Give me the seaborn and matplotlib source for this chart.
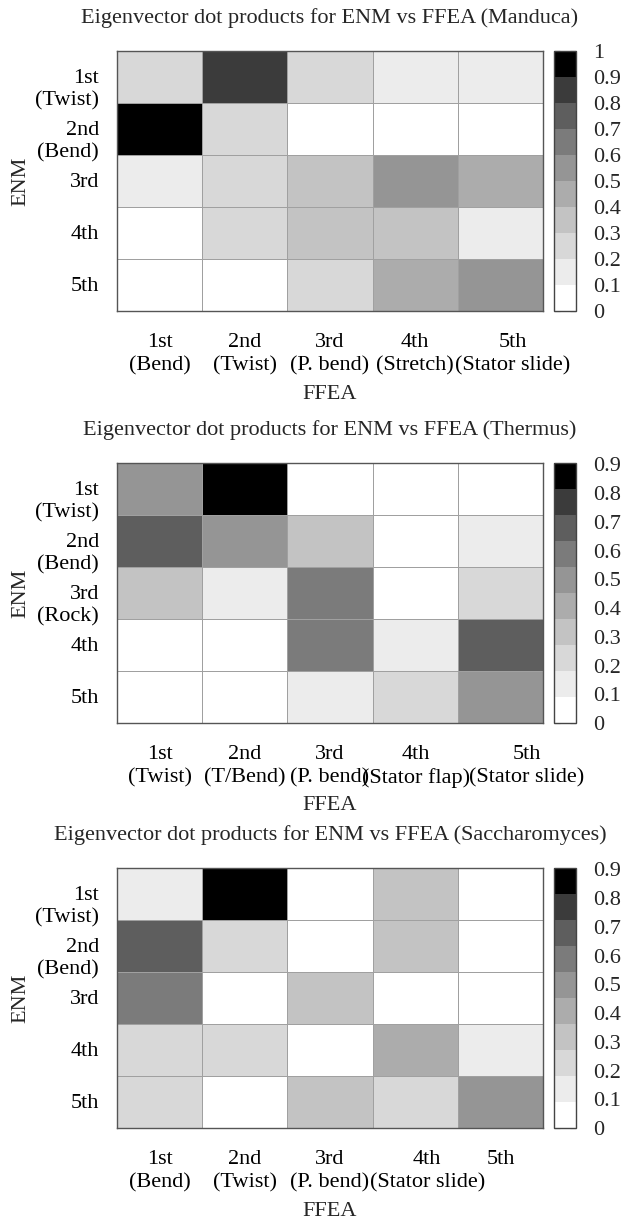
import numpy as np
import pandas as pd
import matplotlib
matplotlib.use("Agg")
import matplotlib.pyplot as plt
import seaborn as sns
from matplotlib.colors import ListedColormap
from matplotlib.transforms import ScaledTranslation

# ---------------- data ----------------
titles = [
    "Eigenvector dot products for ENM vs FFEA (Manduca)",
    "Eigenvector dot products for ENM vs FFEA (Thermus)",
    "Eigenvector dot products for ENM vs FFEA (Saccharomyces)",
]

enm_manduca = ["1st\n(Twist)", "2nd\n(Bend)", "3rd", "4th", "5th"]
ffea_manduca = ["1st\n(Bend)", "2nd\n(Twist)", "3rd\n(P. bend)", "4th\n(Stretch)", "5th\n(Stator slide)"]
manduca = [
    [0.25, 0.85, 0.25, 0.15, 0.15],
    [0.97, 0.25, 0.05, 0.03, 0.02],
    [0.15, 0.25, 0.35, 0.55, 0.45],
    [0.05, 0.25, 0.35, 0.35, 0.15],
    [0.05, 0.05, 0.25, 0.45, 0.55],
]
cbmax_manduca = 1.0

enm_thermus = ["1st\n(Twist)", "2nd\n(Bend)", "3rd\n(Rock)", "4th", "5th"]
ffea_thermus = ["1st\n(Twist)", "2nd\n(T/Bend)", "3rd\n(P. bend)", "4th\n(Stator flap)", "5th\n(Stator slide)"]
thermus = [
    [0.50, 0.905, 0.04, 0.03, 0.04],
    [0.68, 0.50, 0.32, 0.03, 0.13],
    [0.32, 0.13, 0.60, 0.02, 0.23],
    [0.03, 0.04, 0.60, 0.13, 0.68],
    [0.02, 0.03, 0.13, 0.23, 0.50],
]
cbmax_thermus = 0.905

enm_sacch = ["1st\n(Twist)", "2nd\n(Bend)", "3rd", "4th", "5th"]
ffea_sacch = ["1st\n(Bend)", "2nd\n(Twist)", "3rd\n(P. bend)", "4th\n(Stator slide)", "5th"]
sacch = [
    [0.13, 0.905, 0.03, 0.32, 0.02],
    [0.68, 0.23, 0.02, 0.32, 0.03],
    [0.60, 0.03, 0.32, 0.04, 0.02],
    [0.23, 0.23, 0.03, 0.42, 0.13],
    [0.23, 0.04, 0.32, 0.23, 0.50],
]
cbmax_sacch = 0.905

cb_ticks_manduca = [0, 0.1, 0.2, 0.3, 0.4, 0.5, 0.6, 0.7, 0.8, 0.9, 1.0]
cb_ticks_other = [0, 0.1, 0.2, 0.3, 0.4, 0.5, 0.6, 0.7, 0.8, 0.9]

panels = [
    (titles[0], manduca, enm_manduca, ffea_manduca, cbmax_manduca, cb_ticks_manduca),
    (titles[1], thermus, enm_thermus, ffea_thermus, cbmax_thermus, cb_ticks_other),
    (titles[2], sacch, enm_sacch, ffea_sacch, cbmax_sacch, cb_ticks_other),
]

# ---------------- style ----------------
sns.set_theme(style="white")
plt.rcParams["font.family"] = ["Liberation Serif", "DejaVu Serif"]
FS = 16

# gnuplot-like negative gray palette, 10 discrete colours (gamma 1.5)
levels = [(1 - i / 9) ** (2 / 3) for i in range(10)]
cmap = ListedColormap([(g, g, g) for g in levels])

W, H = 621, 1221
fig = plt.figure(figsize=(W / 100, H / 100), dpi=100)

ax_left, ax_right = 117, 543
cb_left, cb_right = 554, 576
layout = [  # (title_y, top, bottom, xlabel_y)
    (18, 51, 311, 395),
    (430, 463, 723, 805),
    (835, 868, 1128, 1212),
]
# horizontal nudges (px) of x tick labels, mimicking the reference's placement
xshift = [
    [0, 0, 0, 0, 12],
    [0, 0, 0, 1, 26],
    [0, 0, 0, 12, 0],
]

for k, ((title, data, rows, cols, cbmax, cbt), (ty, top, bot, xly)) in enumerate(zip(panels, layout)):
    ax = fig.add_axes([ax_left / W, 1 - bot / H, (ax_right - ax_left) / W, (bot - top) / H])
    cax = fig.add_axes([cb_left / W, 1 - bot / H, (cb_right - cb_left) / W, (bot - top) / H])
    df = pd.DataFrame(data, index=rows, columns=cols)
    sns.heatmap(df, ax=ax, cbar_ax=cax, cmap=cmap, vmin=0, vmax=cbmax,
                linewidths=0.7, linecolor="#a0a0a0",
                cbar_kws={"ticks": cbt})
    for s in ax.spines.values():
        s.set_visible(True)
        s.set_color("#555555")
        s.set_linewidth(1.0)
    ax.tick_params(axis="both", which="both", direction="in", length=6, width=0.8,
                   color="#333333", top=True, right=True, bottom=True, left=True,
                   labelsize=FS, labelcolor="black")
    ax.tick_params(axis="x", pad=16)
    ax.tick_params(axis="y", pad=13)
    ax.set_xticklabels(cols, rotation=0, ha="center", fontsize=FS, linespacing=1.25)
    ax.set_yticklabels(rows, rotation=0, ha="right", va="top", fontsize=FS, linespacing=1.25)
    for lbl in ax.get_yticklabels():
        lbl.set_transform(lbl.get_transform() + ScaledTranslation(0, 8 / 100, fig.dpi_scale_trans))
    for lbl, dx in zip(ax.get_xticklabels(), xshift[k]):
        lbl.set_transform(lbl.get_transform() + ScaledTranslation(dx / 100, 0, fig.dpi_scale_trans))

    ax.set_xlabel("FFEA", fontsize=FS)
    ax.xaxis.set_label_coords(0.5, -(xly - bot) / (bot - top))
    ax.xaxis.label.set_va("center")
    ax.set_ylabel("ENM", fontsize=FS)
    ax.yaxis.set_label_coords(-(ax_left - 21) / (ax_right - ax_left), 0.5)
    ax.yaxis.label.set_va("center")

    fig.text((ax_left + ax_right) / 2 / W, 1 - ty / H, title, ha="center", va="center", fontsize=FS)

    cax.tick_params(direction="in", length=4, width=0.8, color="#333333",
                    left=True, right=True, labelsize=FS, pad=12)
    cax.set_yticklabels([f"{t:g}" for t in cbt])
    cb = ax.collections[0].colorbar
    cb.outline.set_visible(True)
    cb.outline.set_edgecolor("#444444")
    cb.outline.set_linewidth(1.0)

fig.savefig("out.png", dpi=100)
